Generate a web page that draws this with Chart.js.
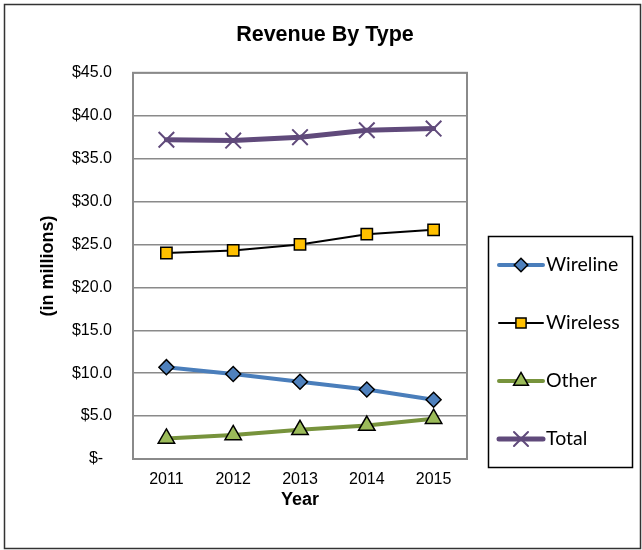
<!DOCTYPE html>
<html>
<head>
<meta charset="utf-8">
<title>Revenue By Type</title>
<script src="https://cdn.jsdelivr.net/npm/chart.js@4/dist/chart.umd.min.js"></script>
<style>
  html, body { margin: 0; padding: 0; background: #fff; }
  canvas { display: block; }
</style>
</head>
<body>
<canvas id="revenue-chart" width="642" height="550"></canvas>
<script>
// data
const years = [ '2011', '2012', '2013', '2014', '2015' ];
const wireline = [ 10.7, 9.9, 9.0, 8.1, 6.9 ];
const wireless = [ 24.0, 24.3, 25.0, 26.2, 26.7 ];
const other = [ 2.4, 2.8, 3.4, 3.9, 4.7 ];
const total = [ 37.2, 37.1, 37.5, 38.3, 38.5 ];
const yTickLabels = [ '$-  ', '$5.0', '$10.0', '$15.0', '$20.0', '$25.0', '$30.0', '$35.0', '$40.0', '$45.0' ];

const FONT = "'Liberation Sans', Arial, sans-serif";

//white page + outer frame
const framePlugin = {
	id: 'frame',
	beforeDraw(chart) {
		const c = chart.ctx;
		c.save();
		c.fillStyle = '#fff';
		c.fillRect(0, 0, chart.width, chart.height);
		c.restore();
	},
	afterDraw(chart) {
		const c = chart.ctx;
		const a = chart.chartArea;
		c.save();
		//plot area border
		c.strokeStyle = '#8a8a8a';
		c.lineWidth = 2;
		c.strokeRect(a.left, a.top, a.right - a.left, a.bottom - a.top);
		//chart border
		c.strokeStyle = '#333';
		c.lineWidth = 1.5;
		c.strokeRect(4.5, 4.5, 636, 544);
		c.restore();
	}
};

//legend box drawn like the excel one (line with marker in the middle)
const legendPlugin = {
	id: 'boxLegend',
	afterDraw(chart) {
		const c = chart.ctx;
		c.save();
		c.strokeStyle = '#000';
		c.lineWidth = 1.5;
		c.strokeRect(488.5, 236.5, 144, 231);
		chart.data.datasets.forEach((ds, i) => {
			const y = 265 + i * 58;
			c.strokeStyle = ds.borderColor;
			c.lineWidth = ds.borderWidth;
			c.lineCap = 'round';
			c.beginPath();
			c.moveTo(499, y);
			c.lineTo(543, y);
			c.stroke();
			c.fillStyle = ds.pointBackgroundColor;
			c.strokeStyle = ds.pointBorderColor;
			c.lineWidth = ds.pointBorderWidth;
			Chart.helpers.drawPoint(c, {
				pointStyle: ds.pointStyle,
				radius: ds.pointRadius * 0.9,
				borderWidth: ds.pointBorderWidth,
				rotation: 0
			}, 521, y);
			c.fillStyle = '#000';
			c.font = "19.5px Lato, 'Open Sans', sans-serif";
			c.textAlign = 'left';
			c.textBaseline = 'middle';
			c.fillText(ds.label, 546, y);
		});
		c.restore();
	}
};

const ctx = document.querySelector('#revenue-chart').getContext('2d');
const revenueChart = new Chart(ctx, {
	type: 'line',
	data: {
		labels: years,
		datasets: [
			{
				label: 'Wireline',
				data: wireline,
				borderColor: '#4a7ebb',
				borderWidth: 4,
				pointStyle: 'rectRot',
				pointRadius: 7.5,
				pointBackgroundColor: '#4f81bd',
				pointBorderColor: '#000',
				pointBorderWidth: 1.5
			},
			{
				label: 'Wireless',
				data: wireless,
				borderColor: '#000',
				borderWidth: 2,
				pointStyle: 'rect',
				pointRadius: 8,
				pointBackgroundColor: '#ffc000',
				pointBorderColor: '#000',
				pointBorderWidth: 1.5
			},
			{
				label: 'Other',
				data: other,
				borderColor: '#77933c',
				borderWidth: 4,
				pointStyle: 'triangle',
				pointRadius: 9.5,
				pointBackgroundColor: '#9bbb59',
				pointBorderColor: '#000',
				pointBorderWidth: 1.5
			},
			{
				label: 'Total',
				data: total,
				borderColor: '#604a7b',
				borderWidth: 5,
				pointStyle: 'crossRot',
				pointRadius: 11,
				pointBackgroundColor: '#604a7b',
				pointBorderColor: '#604a7b',
				pointBorderWidth: 2
			}
		]
	},
	options: {
		responsive: false,
		animation: false,
		layout: {
			padding: { left: 8, right: 0, top: 0, bottom: 0 }
		},
		elements: {
			line: { tension: 0, borderCapStyle: 'round' }
		},
		plugins: {
			legend: { display: false },
			tooltip: { enabled: false },
			title: {
				display: true,
				text: 'Revenue By Type',
				color: '#000',
				font: { family: FONT, size: 21.5, weight: 'bold' },
				padding: { top: 22, bottom: 25 }
			}
		},
		scales: {
			x: {
				offset: true,
				grid: { display: false, drawTicks: false },
				border: { display: false },
				ticks: {
					color: '#000',
					padding: 11,
					font: { family: FONT, size: 16 }
				},
				title: {
					display: true,
					text: 'Year',
					color: '#000',
					font: { family: FONT, size: 18, weight: 'bold' },
					padding: { top: 0, bottom: 39 }
				},
				afterFit: (s) => { s.height = 91; }
			},
			y: {
				min: 0,
				max: 45,
				grid: { color: '#8a8a8a', lineWidth: 1.5, drawTicks: false },
				border: { display: false },
				ticks: {
					stepSize: 5,
					color: '#000',
					padding: 21,
					font: { family: FONT, size: 16 },
					callback: (v) => yTickLabels[Math.round(v / 5)]
				},
				title: {
					display: true,
					text: '(in millions)',
					color: '#000',
					font: { family: FONT, size: 18, weight: 'bold' },
					padding: { top: 29, bottom: 0 }
				},
				afterFit: (s) => { s.width = 125; }
			},
			//empty axis that keeps room for the legend box on the right
			yRight: {
				position: 'right',
				grid: { display: false, drawTicks: false },
				border: { display: false },
				ticks: { display: false },
				afterFit: (s) => { s.width = 175; }
			}
		}
	},
	plugins: [ framePlugin, legendPlugin ]
});
</script>
</body>
</html>
